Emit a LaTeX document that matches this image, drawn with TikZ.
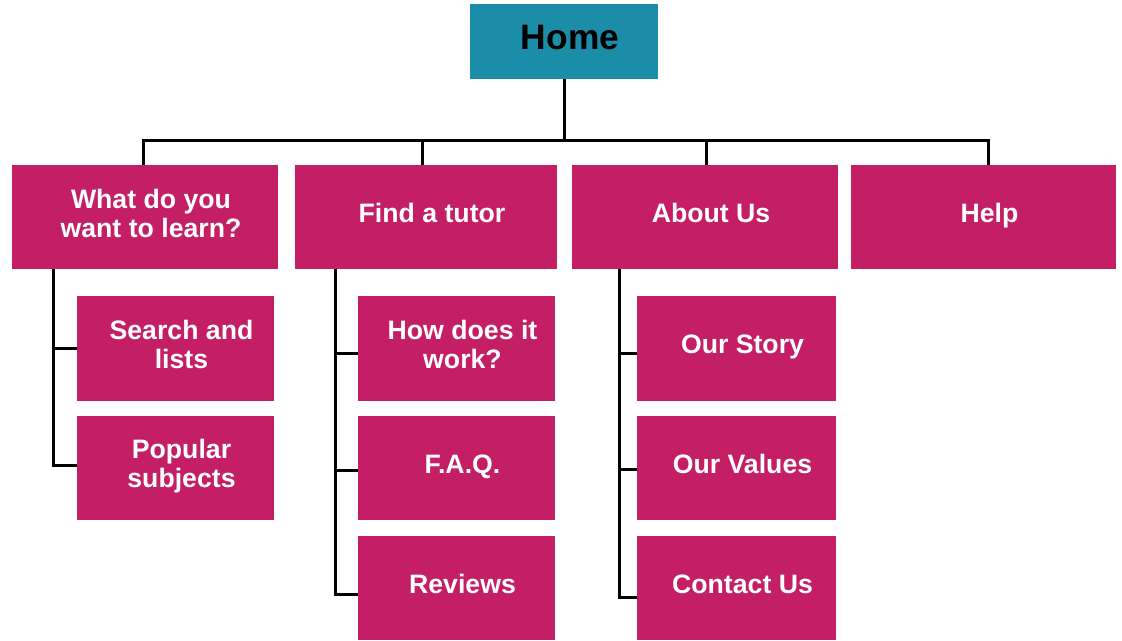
\documentclass[tikz,border=0pt]{standalone}
\usepackage{fontspec}
\setmainfont{Liberation Sans}
\definecolor{mag}{HTML}{C41E64}
\definecolor{teal}{HTML}{1B8DA8}
\begin{document}
\begin{tikzpicture}[x=0.75pt,y=-0.75pt,
  box/.style 2 args={rectangle, inner sep=0pt, fill=mag, draw=none,
     minimum width=#1*0.75pt, minimum height=#2*0.75pt},
  homebox/.style={rectangle, inner sep=0pt, fill=teal, draw=none,
     minimum width=188*0.75pt, minimum height=75*0.75pt},
  lbl/.style={inner sep=0pt, align=center, text=white,
     font=\bfseries\fontsize{20}{21.75}\selectfont},
  nodepth/.style={text depth=0pt},
  homelbl/.style={inner sep=0pt, text=black,
     font=\bfseries\fontsize{26.5}{30}\selectfont},
  conn/.style={draw=black, line width=2.25pt}]
\useasboundingbox (0,0) rectangle (1122,640);

% boxes
\node[homebox] (home) at (564,41.5) {};
\node[box={266}{104}] (b1) at (145,217) {};
\node[box={262}{104}] (b2) at (426,217) {};
\node[box={266}{104}] (b3) at (705,217) {};
\node[box={265}{104}] (b4) at (983.5,217) {};

\node[box={197}{105}] (c11) at (175.5,348.5) {};
\node[box={197}{104}] (c12) at (175.5,468) {};
\node[box={197}{105}] (c21) at (456.5,348.5) {};
\node[box={197}{104}] (c22) at (456.5,468) {};
\node[box={197}{104}] (c23) at (456.5,588) {};
\node[box={199}{105}] (c31) at (736.5,348.5) {};
\node[box={199}{104}] (c32) at (736.5,468) {};
\node[box={199}{104}] (c33) at (736.5,588) {};

% labels
\node[homelbl] (thome) at ([shift={(6,-4)}]home.center) {Home};
\node[lbl] (tb1) at ([shift={(6,-4)}]b1.center) {What do you\\want to learn?};
\node[lbl] (tb2) at ([shift={(6,-4)}]b2.center) {Find a tutor};
\node[lbl] (tb3) at ([shift={(6,-4)}]b3.center) {About Us};
\node[lbl,nodepth] (tb4) at ([shift={(6,-4)}]b4.center) {Help};
\node[lbl] (tc11) at ([shift={(6,-4)}]c11.center) {Search and\\lists};
\node[lbl] (tc12) at ([shift={(6,-2)}]c12.center) {Popular\\subjects};
\node[lbl] (tc21) at ([shift={(6,-4)}]c21.center) {How does it\\work?};
\node[lbl,nodepth] (tc22) at ([shift={(6,-4)}]c22.center) {F.A.Q.};
\node[lbl] (tc23) at ([shift={(6,-4)}]c23.center) {Reviews};
\node[lbl,nodepth] (tc31) at ([shift={(6,-4)}]c31.center) {Our Story};
\node[lbl] (tc32) at ([shift={(6,-4)}]c32.center) {Our Values};
\node[lbl] (tc33) at ([shift={(6,-4)}]c33.center) {Contact Us};

% top connectors
\coordinate (bus) at (0,140);
\coordinate (d1) at ([xshift=-1.5pt]b1.north);
\coordinate (d2) at ([xshift=-3pt]b2.north);
\coordinate (d3) at ([xshift=0.75pt]b3.north);
\coordinate (d4) at ([xshift=3.4pt]b4.north);
\draw[conn] (home.south) -- (home.south |- bus);
\draw[conn] (d1) -- (d1 |- bus) -- (d4 |- bus) -- (d4);
\draw[conn] (d2) -- (d2 |- bus);
\draw[conn] (d3) -- (d3 |- bus);

% column 1
\coordinate (k1) at ([xshift=31.5pt]b1.south west);
\coordinate (e11) at (c11.west);
\coordinate (e12) at ([yshift=1.9pt]c12.west);
\draw[conn] (k1) |- (e12);
\draw[conn] (e11) -- (e11 -| k1);

% column 2
\coordinate (k2) at ([xshift=30.75pt]b2.south west);
\coordinate (e21) at ([yshift=-3.75pt]c21.west);
\coordinate (e22) at ([yshift=-1.9pt]c22.west);
\coordinate (e23) at ([yshift=-5pt]c23.west);
\draw[conn] (k2) |- (e23);
\draw[conn] (e21) -- (e21 -| k2);
\draw[conn] (e22) -- (e22 -| k2);

% column 3
\coordinate (k3) at ([xshift=36pt]b3.south west);
\coordinate (e31) at ([yshift=-4.1pt]c31.west);
\coordinate (e32) at ([yshift=-1.1pt]c32.west);
\coordinate (e33) at ([yshift=-6.75pt]c33.west);
\draw[conn] (k3) |- (e33);
\draw[conn] (e31) -- (e31 -| k3);
\draw[conn] (e32) -- (e32 -| k3);
\end{tikzpicture}
\end{document}
